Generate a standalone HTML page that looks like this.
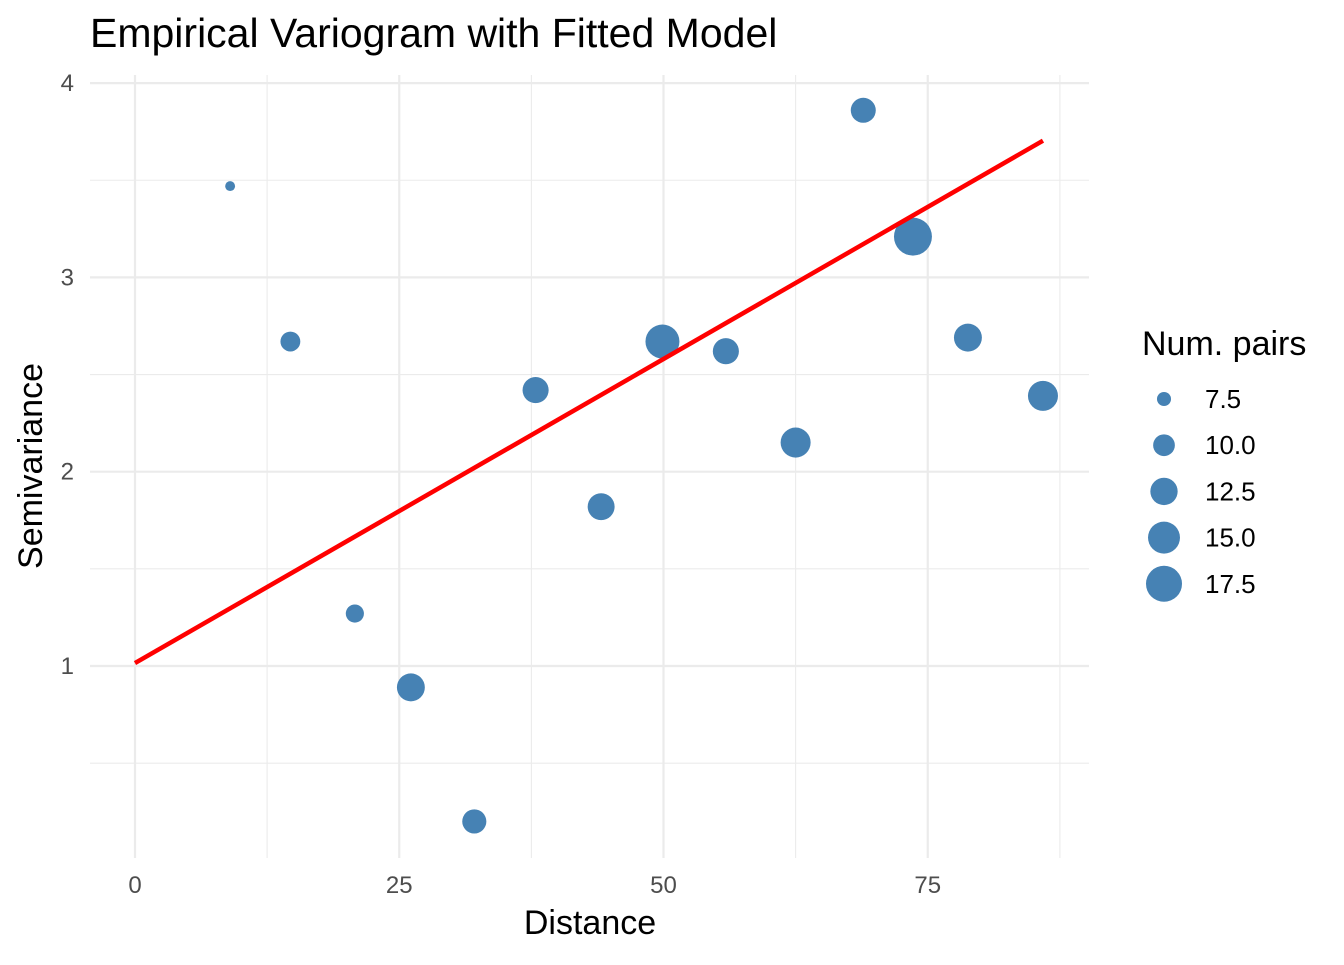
<!DOCTYPE html>
<html><head><meta charset="utf-8"><style>
body{margin:0;background:#fff}
svg text{font-family:"Liberation Sans",sans-serif}
</style></head><body>
<svg id="chart" width="1344" height="960" xmlns="http://www.w3.org/2000/svg">
<text x="90" y="47" font-size="41" fill="#000">Empirical Variogram with Fitted Model</text>
<g id="grid"></g><g id="marks"></g><g id="legend"></g>
<text x="590" y="934" font-size="34" text-anchor="middle">Distance</text>
<text transform="translate(42,466) rotate(-90)" font-size="34" text-anchor="middle">Semivariance</text>
</svg>
<script>
const distances=[9.0,14.7,20.8,26.1,32.1,37.9,44.1,49.9,55.9,62.5,68.9,73.6,78.8,85.9];
const gammas=[3.47,2.67,1.27,0.89,0.20,2.42,1.82,2.67,2.62,2.15,3.86,3.21,2.69,2.39];
const npairs=[6.6,9.3,8.7,12.8,11.0,11.9,12.3,16.2,11.9,13.9,11.4,18.8,12.8,13.9];
const xTicks=[0,25,50,75];
const yTicks=[1,2,3,4];
const legendVals=[7.5,10.0,12.5,15.0,17.5];
const nugget=1.015, slope=0.0313, fitMax=85.9;
const X=v=>135+v*10.57, Y=v=>666-(v-1)*194.3;
const R=n=>Math.sqrt(Math.max(4,-157+27.5*n));
const NS='http://www.w3.org/2000/svg';
function mk(p,t,a){const e=document.createElementNS(NS,t);for(const k in a)e.setAttribute(k,a[k]);p.appendChild(e);return e;}
const grid=document.getElementById('grid'),marks=document.getElementById('marks'),leg=document.getElementById('legend');
const x0=90,x1=1089,y0=75,y1=858;
for(let i=0;i<xTicks.length;i++){
 const v=xTicks[i];
 const l=mk(grid,'line',{x1:X(v),x2:X(v),y1:y0,y2:y1,stroke:'#ebebeb','stroke-width':2.2});
 
 
 const m=mk(grid,'line',{x1:X(v+12.5),x2:X(v+12.5),y1:y0,y2:y1,stroke:'#ebebeb','stroke-width':1.1});
 
 
 const t=mk(grid,'text',{x:X(v),y:893,'font-size':24,fill:'#4d4d4d','text-anchor':'middle'});t.textContent=v;
 
 
}
for(let i=0;i<yTicks.length;i++){
 const v=yTicks[i];
 const l=mk(grid,'line',{x1:x0,x2:x1,y1:Y(v),y2:Y(v),stroke:'#ebebeb','stroke-width':2.2});
 
 
 const m=mk(grid,'line',{x1:x0,x2:x1,y1:Y(v-0.5),y2:Y(v-0.5),stroke:'#ebebeb','stroke-width':1.1});
 
 
 const t=mk(grid,'text',{x:74,y:Y(v)+8,'font-size':24,fill:'#4d4d4d','text-anchor':'end'});t.textContent=v;
 
 
}
for(let i=0;i<distances.length;i++){
 const c=mk(marks,'circle',{cx:X(distances[i]),cy:Y(gammas[i]),r:R(npairs[i]),fill:'#4682b4'});
 
 
}
const fl=mk(marks,'line',{x1:X(0),y1:Y(nugget),x2:X(fitMax),y2:Y(nugget+slope*fitMax),stroke:'#ff0000','stroke-width':4.5});


const lt=mk(leg,'text',{x:1142,y:355,'font-size':34});lt.textContent='Num. pairs';


for(let i=0;i<legendVals.length;i++){
 const cy=399+i*46.2;
 const c=mk(leg,'circle',{cx:1164,cy:cy,r:R(legendVals[i]),fill:'#4682b4'});
 
 
 const t=mk(leg,'text',{x:1205,y:cy+9,'font-size':26});t.textContent=legendVals[i].toFixed(1);
 
 
}
</script>
</body></html>
